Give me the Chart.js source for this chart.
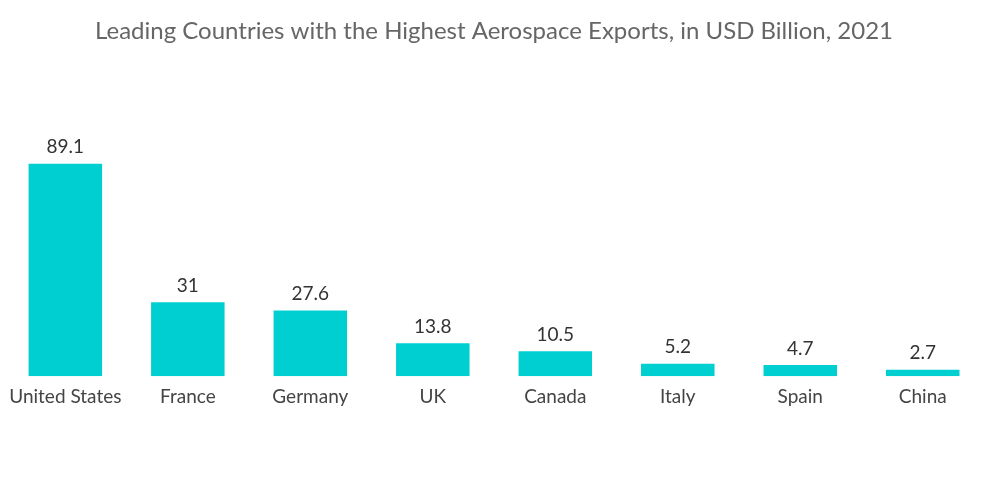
<!DOCTYPE html>
<html>
<head>
<meta charset="utf-8">
<script src="https://cdn.jsdelivr.net/npm/chart.js@4"></script>
<style>
  html, body { margin: 0; padding: 0; background: #ffffff; }
  #wrap { width: 1000px; height: 504px; }
</style>
</head>
<body>
<div id="wrap"><canvas id="exportsChart"></canvas></div>
<script>
const countries = ['United States', 'France', 'Germany', 'UK', 'Canada', 'Italy', 'Spain', 'China'];
const exportsBn = [89.1, 31, 27.6, 13.8, 10.5, 5.2, 4.7, 2.7];

// draws the value above each bar
const valueLabels = {
    id: 'valueLabels',
    afterDatasetsDraw(chart) {
        const c = chart.ctx;
        const meta = chart.getDatasetMeta(0);
        c.save();
        c.font = '19px Lato';
        c.fillStyle = '#333333';
        c.textAlign = 'center';
        c.textBaseline = 'bottom';
        meta.data.forEach((bar, i) => {
            c.fillText(String(exportsBn[i]), bar.x, bar.y - 7);
        });
        c.restore();
    }
};

const ctx = document.getElementById('exportsChart');

new Chart(ctx, {
    type: 'bar',
    data: {
        labels: countries,
        datasets: [
            {
                label: 'Aerospace exports',
                data: exportsBn,
                backgroundColor: '#00cfd1',
                barPercentage: 0.6,
                categoryPercentage: 1
            }
        ]
    },
    options: {
        responsive: true,
        maintainAspectRatio: false,
        animation: false,
        layout: {
            padding: { left: 4, right: 16, top: 0, bottom: 87 }
        },
        plugins: {
            legend: { display: false },
            tooltip: { enabled: false },
            title: {
                display: true,
                text: 'Leading Countries with the Highest Aerospace Exports, in USD Billion, 2021',
                color: '#666666',
                font: { family: 'Lato', size: 24, weight: 'normal' },
                padding: { top: 17, bottom: 92 }
            }
        },
        scales: {
            x: {
                grid: { display: false, drawTicks: false },
                border: { display: false },
                ticks: {
                    color: '#444444',
                    font: { family: 'Lato', size: 19 },
                    padding: 9
                }
            },
            y: {
                display: false,
                min: 0,
                max: 100
            }
        }
    },
    plugins: [valueLabels]
});
</script>
</body>
</html>
